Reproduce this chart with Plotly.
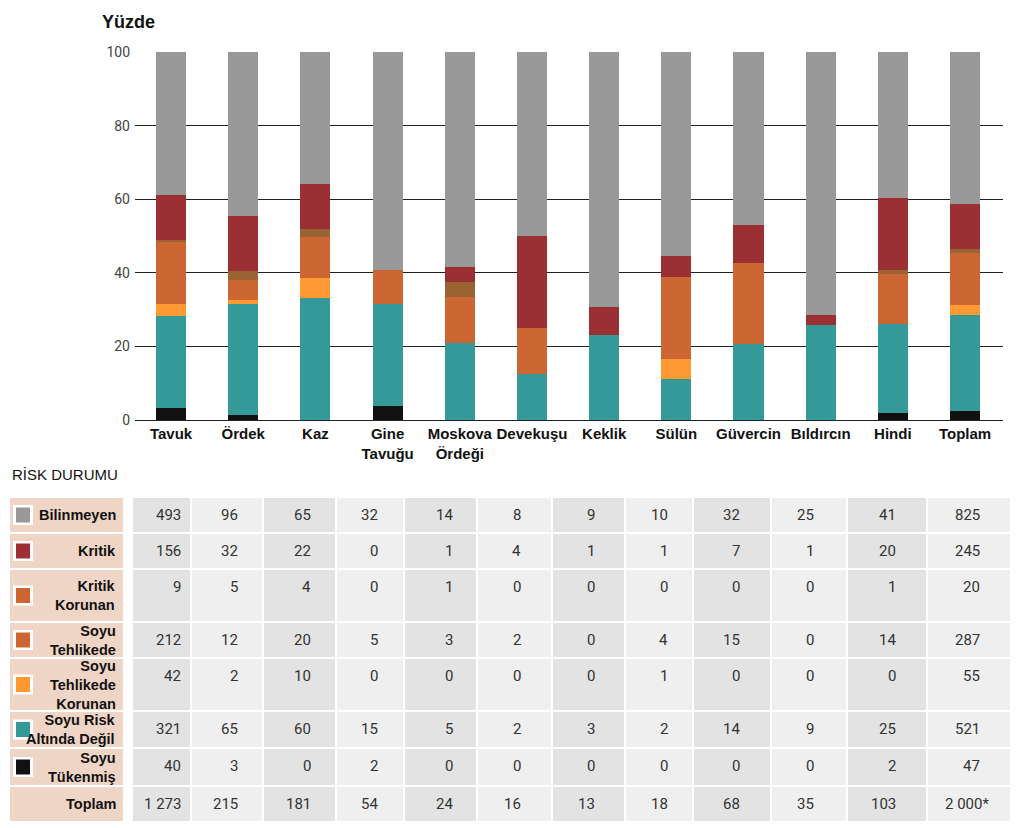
import plotly.graph_objects as go

W, H = 1024, 828

# ---------------- data ----------------
categories = ["Tavuk", "Ördek", "Kaz", "Gine<br>Tavuğu", "Moskova<br>Ördeği", "Devekuşu",
              "Keklik", "Sülün", "Güvercin", "Bıldırcın", "Hindi", "Toplam"]

bilinmeyen = [493, 96, 65, 32, 14, 8, 9, 10, 32, 25, 41, 825]
kritik = [156, 32, 22, 0, 1, 4, 1, 1, 7, 1, 20, 245]
kritik_korunan = [9, 5, 4, 0, 1, 0, 0, 0, 0, 0, 1, 20]
soyu_tehlikede = [212, 12, 20, 5, 3, 2, 0, 4, 15, 0, 14, 287]
soyu_tehlikede_korunan = [42, 2, 10, 0, 0, 0, 0, 1, 0, 0, 0, 55]
soyu_risk_altinda_degil = [321, 65, 60, 15, 5, 2, 3, 2, 14, 9, 25, 521]
soyu_tukenmis = [40, 3, 0, 2, 0, 0, 0, 0, 0, 0, 2, 47]
toplam = [1273, 215, 181, 54, 24, 16, 13, 18, 68, 35, 103, 2000]
toplam_marks = ["", "", "", "", "", "", "", "", "", "", "", "*"]

row_labels = ["Bilinmeyen", "Kritik", "Kritik<br>Korunan", "Soyu<br>Tehlikede",
              "Soyu<br>Tehlikede<br>Korunan", "Soyu Risk<br>Altında Değil",
              "Soyu<br>Tükenmiş", "Toplam"]

# table order (top to bottom): name, values, bar colour, swatch colour
series = [
    ("Bilinmeyen", bilinmeyen, "#999999", "#999999"),
    ("Kritik", kritik, "#9b3034", "#9b3034"),
    ("Kritik Korunan", kritik_korunan, "#9a6332", "#cc6633"),
    ("Soyu Tehlikede", soyu_tehlikede, "#cc6633", "#cc6633"),
    ("Soyu Tehlikede Korunan", soyu_tehlikede_korunan, "#ff9933", "#ff9933"),
    ("Soyu Risk Altında Değil", soyu_risk_altinda_degil, "#339999", "#339999"),
    ("Soyu Tükenmiş", soyu_tukenmis, "#111111", "#111111"),
]

# ---------------- layout constants (page pixels) ----------------
PLOT_L, PLOT_R, PLOT_T, PLOT_B = 135, 1003, 52, 420
COLS = [132, 191, 263, 336, 404, 477, 552, 625, 693, 771, 847, 927, 1011]
ROWS = [497, 533, 569, 622, 658, 711, 748, 786, 822]
NUM_RIGHT = [183, 240, 313, 380, 455, 523, 597, 670, 742, 816, 898, 982]
LAB_L, LAB_R = 10, 123

# page offset / effective drawn size of the figure
OX, OY = 8, 16
EW, EH = 1024, 812


def fx(p):
    return (p - OX) / EW


def fy(p):
    return 1 - (p - OY) / EH


LABEL_FONT = dict(family="Liberation Sans", size=14.5, color="#111111", weight="bold")
NUM_FONT = dict(family="Roboto", size=15, color="#333333")

fig = go.Figure()

# stacked bars, bottom to top
for name, vals, bcol, _ in reversed(series):
    fig.add_trace(go.Bar(x=categories, y=vals, name=name, marker_color=bcol,
                         marker_line_width=0, width=0.416))

fig.update_layout(
    width=W, height=H,
    margin=dict(l=0, r=0, t=0, b=0),
    barmode="stack", barnorm="percent",
    plot_bgcolor="white", paper_bgcolor="white",
    showlegend=False,
    xaxis=dict(domain=[fx(PLOT_L), fx(PLOT_R)], type="category",
               range=[-0.5, 11.526], showgrid=False, showline=True,
               linecolor="#222222", linewidth=1, ticks="",
               tickfont=dict(family="Liberation Sans", size=15, color="#111111", weight="bold"),
               fixedrange=True),
    yaxis=dict(domain=[fy(PLOT_B), fy(PLOT_T)], range=[0, 100],
               tickvals=[0, 20, 40, 60, 80, 100], showgrid=True,
               gridcolor="#222222", gridwidth=1, zeroline=False, showline=False,
               ticks="", ticklabelstandoff=4,
               tickfont=dict(family="Roboto", size=14, color="#444444"),
               fixedrange=True),
)

shapes = []
annotations = []

# titles
annotations.append(dict(text="<b>Yüzde</b>", x=fx(100), y=fy(22), xref="paper", yref="paper",
                        xanchor="left", yanchor="middle", showarrow=False,
                        font=dict(family="Liberation Sans", size=18, color="#111111")))
annotations.append(dict(text="RİSK DURUMU", x=fx(10), y=fy(475), xref="paper", yref="paper",
                        xanchor="left", yanchor="middle", showarrow=False,
                        font=dict(family="Liberation Sans", size=15, color="#111111")))

table_rows = [vals for _, vals, _, _ in series] + [toplam]
n_rows = len(table_rows)

for i in range(n_rows):
    top, bot = ROWS[i], ROWS[i + 1]
    yc = (top + bot) / 2
    # label cell
    shapes.append(dict(type="rect", xref="paper", yref="paper",
                       x0=fx(LAB_L), x1=fx(LAB_R), y0=fy(top + 1), y1=fy(bot - 1),
                       fillcolor="#efd5c6", line=dict(width=0), layer="below"))
    annotations.append(dict(text=row_labels[i], x=fx(118), y=fy(yc), xref="paper", yref="paper",
                            xanchor="right", yanchor="middle", align="right", showarrow=False,
                            font=LABEL_FONT))
    if i < len(series):
        sw = series[i][3]
        shapes.append(dict(type="rect", xref="paper", yref="paper",
                           x0=fx(13), x1=fx(33), y0=fy(yc - 10), y1=fy(yc + 10),
                           fillcolor="white", line=dict(width=0)))
        shapes.append(dict(type="rect", xref="paper", yref="paper",
                           x0=fx(16), x1=fx(30), y0=fy(yc - 7.5), y1=fy(yc + 7.5),
                           fillcolor=sw, line=dict(width=0)))
    # data cells
    for j in range(len(categories)):
        fill = "#e3e3e3" if j % 2 == 0 else "#efefef"
        shapes.append(dict(type="rect", xref="paper", yref="paper",
                           x0=fx(COLS[j] + 1), x1=fx(COLS[j + 1] - 1),
                           y0=fy(top + 1), y1=fy(bot - 1),
                           fillcolor=fill, line=dict(width=0), layer="below"))
        v = table_rows[i][j]
        txt = f"{v:,}".replace(",", " ")
        shift = 0
        if i == n_rows - 1 and toplam_marks[j]:
            txt += toplam_marks[j]
            shift = 9
        annotations.append(dict(text=txt, x=fx(NUM_RIGHT[j]), y=fy(top + 18),
                                xref="paper", yref="paper", xanchor="right", yanchor="middle",
                                xshift=shift, showarrow=False, font=NUM_FONT))

fig.update_layout(shapes=shapes, annotations=annotations)

fig.write_html("out.html")
